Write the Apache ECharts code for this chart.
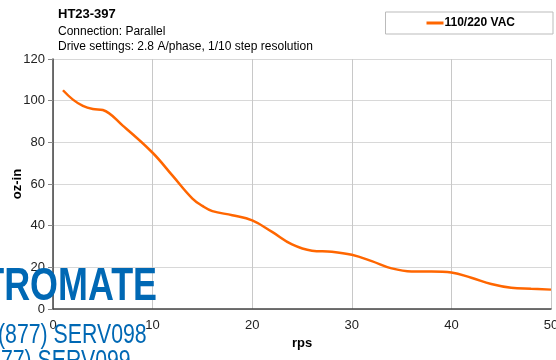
<!DOCTYPE html>
<html><head><meta charset="utf-8">
<script src="https://cdn.jsdelivr.net/npm/echarts@6/dist/echarts.min.js"></script>
<style>html,body{margin:0;padding:0;background:#fff}#c{width:556px;height:360px}</style>
</head><body><div id="c"></div>
<script>
const title = "HT23-397";
const subtitle = "Connection: Parallel\nDrive settings: 2.8 A/phase, 1/10 step resolution";
const seriesName = "110/220 VAC";
const xName = "rps";
const yName = "oz-in";
const rps = [1,2,3,4,5,7,10,12,14,15,16,18,20,22,24,26,28,30,32,34,36,38,40,42,44,46,48,50];
const torque = [105,100.5,97.5,96,95.5,88,75,64,53,49.5,47,45,42.5,37,31,28,27.5,26,23,19.5,18,18,17.5,15,12,10.2,9.7,9.3];
const wmBrand = "ELECTROMATE";
const wmPhone1 = "(877) SERV098";
const wmPhone2 = "(877) SERV099";

const chart = echarts.init(document.getElementById('c'), null, {renderer:'canvas'});
const font = 'Liberation Sans, Arial, sans-serif';
const blue = '#0068b4';
chart.setOption({
  animation:false,
  title:{text:title, subtext:subtitle, left:53, top:3, itemGap:3,
    textStyle:{fontFamily:font, fontSize:13, fontWeight:'bold', color:'#000'},
    subtextStyle:{fontFamily:font, fontSize:12, color:'#000', lineHeight:15}},
  legend:{data:[seriesName], right:3, top:12, padding:[5,38,5,41],
    borderColor:'#bbb', borderWidth:1, itemWidth:17, itemHeight:3, itemGap:2,
    icon:'rect',
    textStyle:{fontFamily:font, fontSize:12, fontWeight:'bold', color:'#000', padding:[0,0,0,-4]}},
  grid:{left:53, right:5, top:59, bottom:51, outerBoundsMode:'none', containLabel:false},
  xAxis:{type:'value', min:0, max:50, interval:10, name:xName, nameLocation:'middle', nameGap:28,
    nameMoveOverlap:false,
    nameTextStyle:{fontFamily:font, fontSize:13, fontWeight:'bold', color:'#000'},
    axisLine:{lineStyle:{color:'#444', width:1.5}}, axisTick:{show:false},
    axisLabel:{fontFamily:font, fontSize:13, color:'#222', margin:10},
    splitLine:{show:true, lineStyle:{color:'#c8c8c8'}}},
  yAxis:{type:'value', min:0, max:120, interval:20, name:yName, nameLocation:'middle', nameGap:29,
    nameMoveOverlap:false,
    nameTextStyle:{fontFamily:font, fontSize:13, fontWeight:'bold', color:'#000'},
    axisLine:{show:true, lineStyle:{color:'#444', width:1.5}},
    axisTick:{show:true, length:5, inside:false, lineStyle:{color:'#888'}},
    axisLabel:{fontFamily:font, fontSize:13, color:'#222', margin:8},
    splitLine:{show:true, lineStyle:{color:'#d8d8d8'}}},
  series:[{name:seriesName, type:'line', smooth:0.4, showSymbol:false,
    data:rps.map((x,i)=>[x,torque[i]]),
    lineStyle:{color:'#ff6600', width:2.5}, itemStyle:{color:'#ff6600'}}],
  graphic:[
    {type:'text', x:157, y:264, scaleX:0.78, z:100,
      style:{text:wmBrand, fontFamily:font, fontWeight:'bold', fontSize:46, fill:blue, align:'right', verticalAlign:'top'}},
    {type:'text', x:-2, y:321, scaleX:0.76, z:100,
      style:{text:wmPhone1, fontFamily:font, fontSize:28, fill:blue, align:'left', verticalAlign:'top'}},
    {type:'text', x:-18, y:347, scaleX:0.76, z:100,
      style:{text:wmPhone2, fontFamily:font, fontSize:28, fill:blue, align:'left', verticalAlign:'top'}}
  ]
});
</script></body></html>
